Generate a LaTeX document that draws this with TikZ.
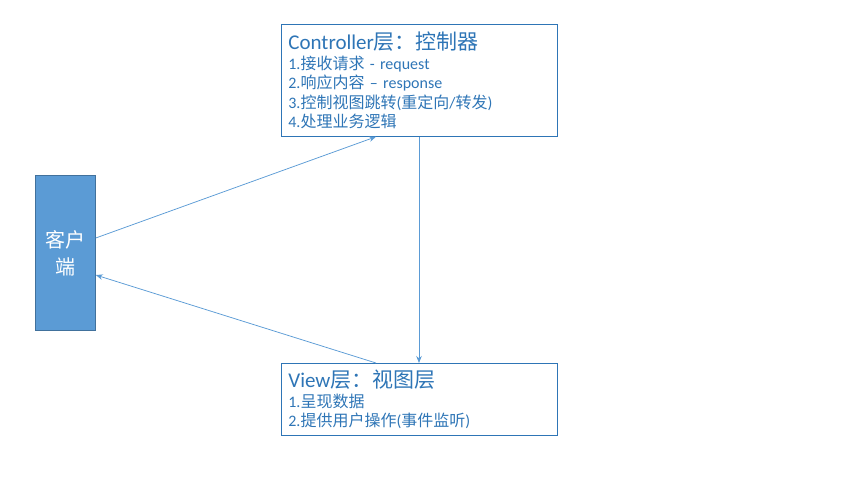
\documentclass[tikz,border=0pt]{standalone}
\usepackage{fontspec}
\setmainfont{Carlito}
\newfontfamily\zhfont{Noto Sans CJK SC}
\newcommand{\zh}[1]{{\zhfont #1}}
\usepackage{xcolor}
\usetikzlibrary{arrows.meta, positioning}
\definecolor{accent}{HTML}{5B9BD5}
\definecolor{accentdark}{HTML}{41719C}
\definecolor{textblue}{HTML}{2E75B6}

\begin{document}
\begin{tikzpicture}[x=1pt, y=-1pt,
				->,
				>={Stealth[length=7pt, width=5.5pt]},
				line width=0.75pt,
				layer/.style={draw=textblue, text=textblue, anchor=north west, minimum width=276pt,
					text width=262pt, align=left, inner xsep=7pt, inner ysep=4pt, font=\fontsize{16}{19.5}\selectfont},
				client/.style={draw=accentdark, fill=accent, text=white, anchor=north west,
					minimum width=60pt, minimum height=155pt, text width=50pt, align=center,
					font=\zhfont\fontsize{20}{27}\selectfont},
				flow/.style={->, accent}]
				\useasboundingbox (0,0) rectangle (855,480);
				\node (client) [client] at (35,175) {客户\\端};
				\node (ctrl) [layer, minimum height=112pt] at (281,24)
					{{\fontsize{21}{24}\selectfont Controller\zh{层：控制器}}\\
					1.\zh{接收请求} - request\\
					2.\zh{响应内容} – response\\
					3.\zh{控制视图跳转}(\zh{重定向}/\zh{转发})\\
					4.\zh{处理业务逻辑}};
				\node (view) [layer, minimum height=72pt] at (281,363)
					{{\fontsize{21}{24}\selectfont View\zh{层：视图层}}\\
					1.\zh{呈现数据}\\
					2.\zh{提供用户操作}(\zh{事件监听})};
				\draw[flow] ([yshift=-63pt]client.north east) -- ([xshift=95pt]ctrl.south west);
				\draw[flow] ([xshift=138pt]ctrl.south west) -- ([xshift=138pt]view.north west);
				\draw[flow] ([xshift=95pt]view.north west) -- ([yshift=-100pt]client.north east);
			\end{tikzpicture}
\end{document}
